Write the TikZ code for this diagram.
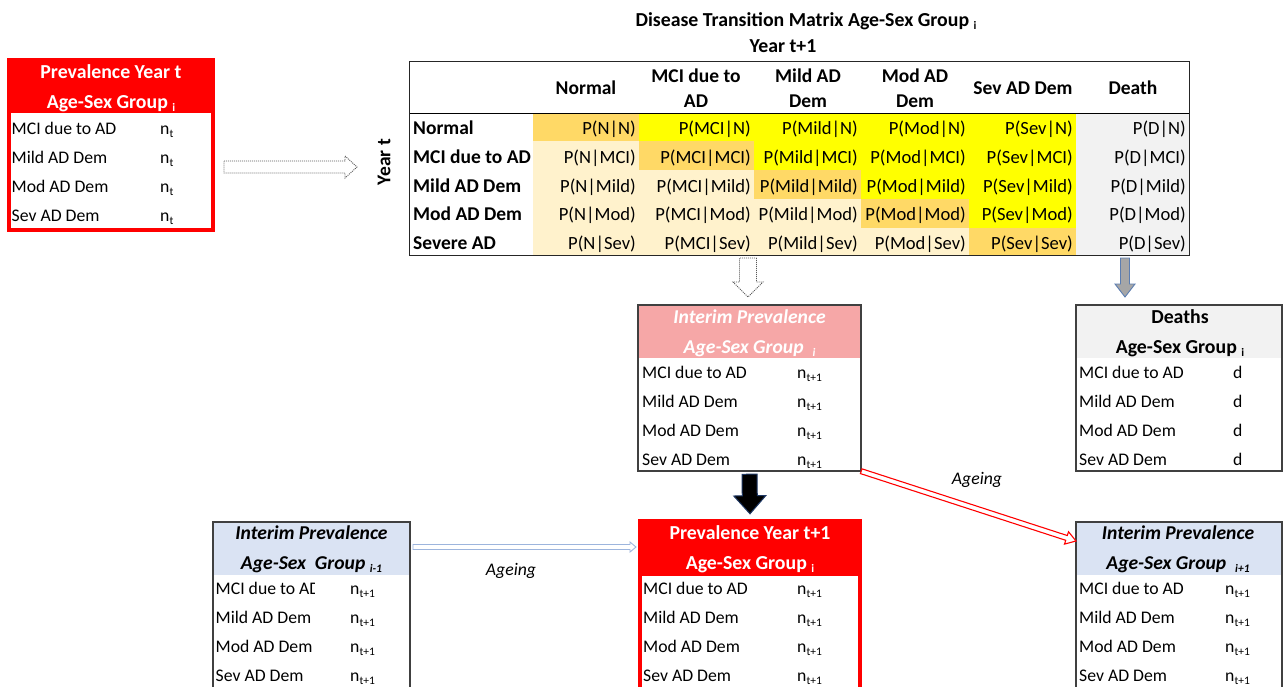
\documentclass[tikz,border=0pt]{standalone}
\usepackage{fontspec}
\setmainfont{Carlito}
\usetikzlibrary{calc,fit}

\definecolor{diagc}{HTML}{FFD966}
\definecolor{upperc}{HTML}{FFFF00}
\definecolor{lowerc}{HTML}{FFF2CC}
\definecolor{deathc}{HTML}{F2F2F2}
\definecolor{pinkc}{HTML}{F6A7A7}
\definecolor{bluec}{HTML}{DAE3F3}
\definecolor{boxgray}{HTML}{404040}
\definecolor{navyc}{HTML}{1F3864}
\definecolor{arrowgray}{HTML}{A6A6A6}
\definecolor{arrowblue}{HTML}{5B7DB1}
\definecolor{lightblueline}{HTML}{9DB5DD}

% small lowered index text
\newcommand\lowsub[1]{\raisebox{-3.5pt}{\fontsize{11.5}{12}\selectfont #1}}

% state table frame: name, x1, y1, x2, y2, header bottom, header fill, frame style
\newcommand\stateframe[8]{%
  \node[fit={(#2,#3) (#4,#5)}, inner sep=0pt] (#1) {};
  \fill[#7] (#2,#3) rectangle (#4,#6);
  \draw[#8] (#2,#3) rectangle (#4,#5);}

% four state rows: name prefix, label x, value x, first baseline, value text
\newcommand\staterows[5]{%
  \foreach \k/\lab in {0/MCI due to AD,1/Mild AD Dem,2/Mod AD Dem,3/Sev AD Dem}{%
    \node[rowtxt] (#1-l\k) at (#2,{#4+29*\k}) {\lab};
    \node[rowtxt] (#1-v\k) at (#3,{#4+29*\k}) {#5};}}

% block arrow: style, start, tip, shaft half width, head half width, head length
\newcommand\blockarrow[6]{%
  \coordinate (ba-h) at ($(#3)!#6!(#2)$);
  \filldraw[#1] ($(#2)!#4!90:(#3)$) -- ($(ba-h)!#4!90:(#3)$) -- ($(ba-h)!#5!90:(#3)$)
    -- (#3) -- ($(ba-h)!#5!-90:(#3)$) -- ($(ba-h)!#4!-90:(#3)$) -- ($(#2)!#4!-90:(#3)$) -- cycle;}

\begin{document}
\begin{tikzpicture}[x=1pt,y=-1pt,
  rowtxt/.style={font=\fontsize{17.7}{20}\selectfont, anchor=base west, inner sep=0pt},
  hdtxt/.style={font=\fontsize{19.8}{22}\selectfont\bfseries, anchor=base, inner sep=0pt},
  hdtxti/.style={font=\fontsize{19.6}{22}\selectfont\bfseries\itshape, anchor=base, inner sep=0pt},
  mlbl/.style={font=\fontsize{19.5}{22}\selectfont\bfseries, anchor=base west, inner sep=0pt},
  mcell/.style={font=\fontsize{18.6}{20}\selectfont, anchor=base east, inner sep=0pt},
  mhead/.style={font=\fontsize{19.5}{25}\selectfont\bfseries, align=center, inner sep=0pt},
  agetxt/.style={font=\fontsize{17.7}{20}\selectfont\itshape, anchor=base, inner sep=0pt},
  redframe/.style={draw=red, line width=3.5pt},
  grayframe/.style={draw=boxgray, line width=1.3pt},
  dotarrow/.style={draw=black!65, fill=white, line width=0.9pt, dash pattern=on 1pt off 1pt},
  grayarrow/.style={draw=arrowblue, fill=arrowgray, line width=0.9pt},
  blackarrow/.style={draw=navyc, fill=black, line width=1pt},
  bluearrow/.style={draw=lightblueline, fill=white, line width=0.9pt},
  redarrow/.style={draw=red, fill=white, line width=1.1pt}]
\useasboundingbox (0,0) rectangle (1283,686);
\clip (0,0) rectangle (1283,686);

% ---------- prevalence, year t ----------
\stateframe{prevt}{9}{60}{213}{230}{113}{red}{redframe}
\node[hdtxt, text=white] (prevt-h1) at (111,78) {Prevalence Year t};
\node[hdtxt, text=white] (prevt-h2) at (111,108) {Age-Sex Group \lowsub{i}};
\staterows{prevt}{11.5}{160}{134}{n\lowsub{t}}

% ---------- transition matrix ----------
\node[hdtxt] (title) at (806,26) {Disease Transition Matrix Age-Sex Group \lowsub{i}};
\node[hdtxt] (yt1) at (783,52) {Year t+1};
\node[font=\fontsize{19.5}{22}\selectfont\bfseries, rotate=90, inner sep=0pt] (yt) at (384,162) {Year t};

\node[fit={(410,62) (1189,255)}, inner sep=0pt] (mtx) {};
\foreach \i/\ya/\yb in {1/113/141,2/141/170,3/170/199,4/199/228,5/228/255}{
  \foreach \j/\xa/\xb in {1/533/639,2/639/754,3/754/861,4/861/969,5/969/1076,6/1076/1189}{
    \ifnum\j=6 \def\cc{deathc}\else\ifnum\j=\i \def\cc{diagc}\else\ifnum\j>\i \def\cc{upperc}\else\def\cc{lowerc}\fi\fi\fi
    \fill[\cc] (\xa,\ya) rectangle (\xb,\yb);}}
\draw[line width=1pt] (410,113) -- (1189,113);
\draw[line width=1.2pt, draw=black!85] (mtx.north west) rectangle (mtx.south east);

\node[mhead] (h1) at (586,88) {Normal};
\node[mhead] (h2) at (696,88) {MCI due to\\AD};
\node[mhead] (h3) at (808,88) {Mild AD\\Dem};
\node[mhead] (h4) at (915,88) {Mod AD\\Dem};
\node[mhead] (h5) at (1023,88) {Sev AD Dem};
\node[mhead] (h6) at (1133,88) {Death};

\foreach \i/\lab/\yb in {1/Normal/134,2/MCI due to AD/163,3/Mild AD Dem/192,4/Mod AD Dem/220,5/Severe AD/249}{
  \node[mlbl] (r\i) at (413,\yb) {\lab};}

\foreach \i/\rn/\yb in {1/N/134,2/MCI/163,3/Mild/192,4/Mod/220,5/Sev/249}{
  \foreach \j/\cn/\xr in {1/N/636,2/MCI/751,3/Mild/858,4/Mod/966,5/Sev/1073,6/D/1186}{
    \node[mcell] (c\i\j) at (\xr,\yb) {P(\cn|\rn)};}}

% ---------- interim prevalence, group i ----------
\stateframe{interim}{638}{305}{861}{471}{358}{pinkc}{grayframe}
\node[hdtxti, text=white] (interim-h1) at (749.5,323) {Interim Prevalence};
\node[hdtxti, text=white] (interim-h2) at (749.5,353) {Age-Sex Group \ \lowsub{i}};
\staterows{interim}{642}{797}{378}{n\lowsub{t+1}}

% ---------- deaths ----------
\stateframe{deaths}{1076}{305}{1282}{471}{358}{deathc}{grayframe}
\node[hdtxt] (deaths-h1) at (1180,323) {Deaths};
\node[hdtxt] (deaths-h2) at (1180,353) {Age-Sex Group \lowsub{i}};
\staterows{deaths}{1079}{1233}{378}{d}

% ---------- prevalence, year t+1 ----------
\stateframe{prevt1}{640}{521}{860}{700}{576}{red}{redframe}
\node[hdtxt, text=white] (prevt1-h1) at (750,539) {Prevalence Year t+1};
\node[hdtxt, text=white] (prevt1-h2) at (750,569) {Age-Sex Group \lowsub{i}};
\staterows{prevt1}{643}{797}{594}{n\lowsub{t+1}}

% ---------- interim prevalence, group i-1 ----------
\stateframe{prev}{213}{522}{410}{700}{575}{bluec}{grayframe}
\node[hdtxti] (prev-h1) at (311.5,539) {Interim Prevalence};
\node[hdtxti] (prev-h2) at (311.5,569) {Age-Sex\ \ Group \lowsub{i-1}};
\begin{scope}
  \clip (214,578) rectangle (314,603);
  \node[rowtxt] (prev-l0) at (215.5,594) {MCI due to AD};
\end{scope}
\foreach \k/\lab in {1/Mild AD Dem,2/Mod AD Dem,3/Sev AD Dem}{
  \node[rowtxt] (prev-l\k) at (215.5,{594+29*\k}) {\lab};}
\foreach \k in {0,1,2,3}{
  \node[rowtxt] (prev-v\k) at (350,{594+29*\k}) {n\lowsub{t+1}};}

% ---------- interim prevalence, group i+1 ----------
\stateframe{next}{1076}{522}{1282}{700}{575}{bluec}{grayframe}
\node[hdtxti] (next-h1) at (1178,539) {Interim Prevalence};
\node[hdtxti] (next-h2) at (1178,569) {Age-Sex Group \ \lowsub{i+1}};
\staterows{next}{1079}{1225}{594}{n\lowsub{t+1}}

% ---------- arrows ----------
\coordinate (a1s) at (224,167);  \coordinate (a1e) at (357,167);
\blockarrow{dotarrow}{a1s}{a1e}{6pt}{11pt}{12pt}

\coordinate (a2s) at (748,258);  \coordinate (a2e) at (748,297);
\blockarrow{dotarrow}{a2s}{a2e}{8.5pt}{15pt}{15pt}

\coordinate (a3s) at (1125,258); \coordinate (a3e) at (1125,297);
\blockarrow{grayarrow}{a3s}{a3e}{4.5pt}{10pt}{13pt}

\coordinate (a4s) at ($(interim.south)+(0,3)$); \coordinate (a4e) at ($(prevt1.north)+(0,-7)$);
\blockarrow{blackarrow}{a4s}{a4e}{7.5pt}{16pt}{18pt}

\coordinate (a5s) at (413,547);  \coordinate (a5e) at (636,547);
\blockarrow{bluearrow}{a5s}{a5e}{2.5pt}{5pt}{6pt}

\coordinate (a6s) at (interim.south east); \coordinate (a6e) at (1076,541);
\blockarrow{redarrow}{a6s}{a6e}{2.5pt}{6.5pt}{10pt}

\node[agetxt] (age1) at (511,575) {Ageing};
\node[agetxt] (age2) at (977,484) {Ageing};
\end{tikzpicture}
\end{document}
